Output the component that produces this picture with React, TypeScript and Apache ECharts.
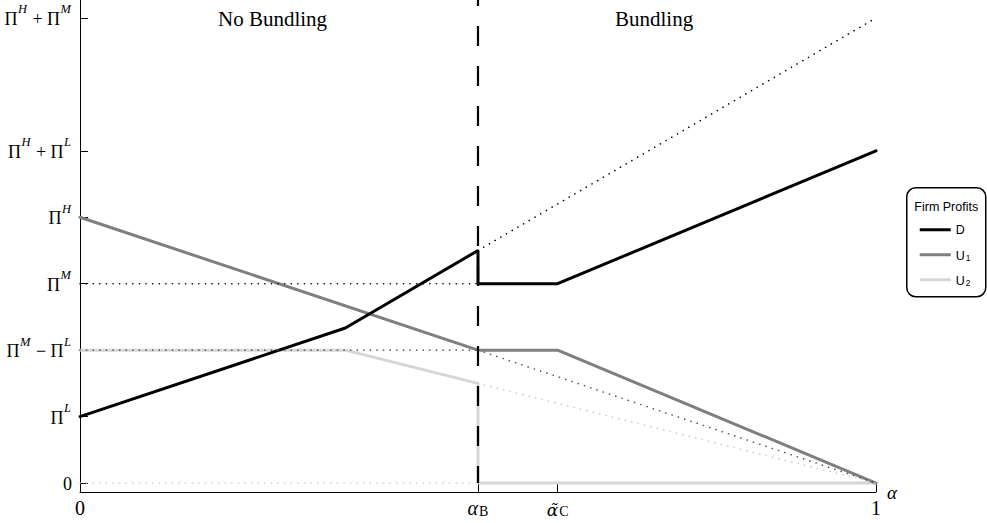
import React, { useEffect, useRef } from "react";
import * as echarts from "echarts";

const SERIF = "'Liberation Serif', 'DejaVu Serif', serif";
const SANS = "'Liberation Sans', Arial, sans-serif";

// Axis ranges
const X_MIN = 0;
const X_MAX = 1;
const Y_MIN = -0.135;
const Y_MAX = 7.27;

// Key alpha values
const ALPHA_B = 0.5;
const ALPHA_C = 0.6;

// Firm profit curves (alpha, profit in units of Π^L)
const D_LINE = [[0, 1], [1 / 3, 7 / 3], [0.5, 3.5], [0.5, 3], [0.6, 3], [1, 5]];
const U1_LINE = [[0, 4], [0.5, 2], [0.6, 2], [1, 0]];
const U2_LINE = [[0, 2], [1 / 3, 2], [0.5, 1.5], [0.5, 0], [1, 0]];

// Dotted reference lines
const D_DOT_FLAT = [[0, 3], [0.5, 3]];
const D_DOT_RISE = [[0.5, 3.5], [1, 7]];
const U1_DOT_FLAT = [[0, 2], [0.5, 2]];
const U1_DOT_FALL = [[0.5, 2], [1, 0]];
const U2_DOT_FLAT = [[0, 0], [0.5, 0]];
const U2_DOT_FALL = [[0.5, 1.5], [1, 0]];

// Tick values & labels
const Y_TICKS = [0, 1, 2, 3, 4, 5, 7];
const Y_LABELS = [
  "{p|0}",
  "{p|Π}{s|L}",
  "{p|Π}{s|M}{p| − Π}{s|L}",
  "{p|Π}{s|M}",
  "{p|Π}{s|H}",
  "{p|Π}{s|H}{p| + Π}{s|L}",
  "{p|Π}{s|H}{p| + Π}{s|M}",
];
const X_TICKS = [0, ALPHA_B, ALPHA_C, 1];
const X_LABELS = ["{p|0}", "{i|α}{b|B}", "{j|α̃}{b|C}", "{p|1}"];

const REGIME_LABELS = ["No Bundling", "Bundling"];

const C_D = "#000000";
const C_U1 = "#7f7f7f";
const C_U2 = "#d6d6d6";

function lineSeries(name: string, data: number[][], color: string, width: number, type: any, z: number) {
  return {
    name,
    type: "line",
    data,
    symbol: "none",
    showSymbol: false,
    silent: true,
    z,
    lineStyle: { color, width, type, cap: "round" },
    emphasis: { disabled: true },
  };
}

export default function App() {
  const ref = useRef<HTMLDivElement>(null);

  useEffect(() => {
    if (!ref.current) return;
    const chart = echarts.init(ref.current, undefined, { renderer: "svg" });
    const dot = [0.1, 6.5];
    const subRich = {
      a: { fontFamily: SANS, fontSize: 12.5, fill: "#000", lineHeight: 14, verticalAlign: "bottom" },
      b: { fontFamily: SANS, fontSize: 8.5, fill: "#000", lineHeight: 8, verticalAlign: "bottom", padding: [3, 0, 0, 1] },
    };
    const option: any = {
      animation: false,
      backgroundColor: "#ffffff",
      grid: { left: 80, right: 111, top: 0, bottom: 31, containLabel: false, outerBoundsMode: "none" },
      xAxis: {
        type: "value",
        min: X_MIN,
        max: X_MAX,
        name: "α",
        nameLocation: "end",
        nameGap: 11,
        nameTextStyle: { fontFamily: SERIF, fontSize: 19, fontStyle: "italic", color: "#000", verticalAlign: "middle" },
        axisLine: { onZero: false, lineStyle: { color: "#000", width: 1 } },
        axisTick: { show: true, inside: true, length: 9, customValues: X_TICKS, lineStyle: { color: "#000", width: 1 } },
        splitLine: { show: false },
        axisLabel: {
          customValues: X_TICKS,
          margin: 6,
          formatter: (v: number) => X_LABELS[X_TICKS.indexOf(v)] ?? "",
          rich: {
            p: { fontFamily: SERIF, fontSize: 20, color: "#000", lineHeight: 20, verticalAlign: "bottom" },
            i: { fontFamily: SERIF, fontSize: 20, fontStyle: "italic", color: "#000", lineHeight: 20, verticalAlign: "bottom" },
            j: { fontFamily: "'DejaVu Serif', serif", fontSize: 17, fontStyle: "italic", color: "#000", lineHeight: 20, verticalAlign: "bottom" },
            b: { fontFamily: SERIF, fontSize: 14, color: "#000", lineHeight: 14, verticalAlign: "bottom", padding: [3, 0, 0, 1] },
          },
        },
      },
      yAxis: {
        type: "value",
        min: Y_MIN,
        max: Y_MAX,
        axisLine: { show: true, onZero: false, lineStyle: { color: "#000", width: 1 } },
        axisTick: { show: true, inside: true, length: 8, customValues: Y_TICKS, lineStyle: { color: "#000", width: 1 } },
        splitLine: { show: false },
        axisLabel: {
          customValues: Y_TICKS,
          margin: 8,
          formatter: (v: number) => Y_LABELS[Y_TICKS.indexOf(v)] ?? "",
          rich: {
            p: { fontFamily: SERIF, fontSize: 18, color: "#000", lineHeight: 20, verticalAlign: "bottom" },
            s: { fontFamily: SERIF, fontSize: 12.5, fontStyle: "italic", color: "#000", lineHeight: 13, verticalAlign: "bottom", padding: [0, 1, 12, 0.5] },
          },
        },
      },
      series: [
        lineSeries("U2 dotted flat", U2_DOT_FLAT, "#c8c8c8", 1.6, dot, 5),
        lineSeries("U2 dotted fall", U2_DOT_FALL, "#c8c8c8", 1.6, dot, 5),
        lineSeries("U₂", U2_LINE, C_U2, 3, "solid", 2),
        lineSeries("U₁", U1_LINE, C_U1, 3, "solid", 3),
        lineSeries("D", D_LINE, C_D, 3, "solid", 4),
        lineSeries("U1 dotted flat", U1_DOT_FLAT, "#555555", 1.6, dot, 6),
        lineSeries("U1 dotted fall", U1_DOT_FALL, "#555555", 1.6, dot, 6),
        lineSeries("D dotted flat", D_DOT_FLAT, "#000000", 1.6, dot, 6),
        lineSeries("D dotted rise", D_DOT_RISE, "#000000", 1.6, dot, 6),
        {
          ...lineSeries("alpha B", [[ALPHA_B, 0], [ALPHA_B, Y_MAX]], "#000000", 2.2, [20, 20], 10),
          lineStyle: { color: "#000", width: 2.2, type: [20, 20], dashOffset: 3, cap: "butt" },
        },
      ],
      graphic: [
        {
          type: "text",
          left: 278 - 60,
          top: 8,
          style: { text: REGIME_LABELS[0], fontFamily: SERIF, fontSize: 21, fill: "#000", width: 120, align: "center" },
        },
        {
          type: "text",
          left: 675 - 60,
          top: 8,
          style: { text: REGIME_LABELS[1], fontFamily: SERIF, fontSize: 21, fill: "#000", width: 120, align: "center" },
        },
        {
          type: "group",
          left: 906,
          top: 187,
          children: [
            { type: "rect", shape: { x: 0, y: 0, width: 79, height: 109, r: 9 }, style: { fill: "#fff", stroke: "#000", lineWidth: 1.5 } },
            { type: "text", x: 39.5, y: 19, style: { text: "Firm Profits", fontFamily: SANS, fontSize: 12.5, fill: "#000", align: "center", verticalAlign: "middle" } },
            { type: "line", shape: { x1: 13, y1: 42, x2: 44, y2: 42 }, style: { stroke: C_D, lineWidth: 3 } },
            { type: "text", x: 49, y: 42, style: { text: "D", fontFamily: SANS, fontSize: 12.5, fill: "#000", align: "left", verticalAlign: "middle" } },
            { type: "line", shape: { x1: 13, y1: 67, x2: 44, y2: 67 }, style: { stroke: C_U1, lineWidth: 3 } },
            { type: "text", x: 49, y: 68, style: { text: "{a|U}{b|1}", align: "left", verticalAlign: "middle", rich: subRich } },
            { type: "line", shape: { x1: 13, y1: 92, x2: 44, y2: 92 }, style: { stroke: C_U2, lineWidth: 3 } },
            { type: "text", x: 49, y: 93, style: { text: "{a|U}{b|2}", align: "left", verticalAlign: "middle", rich: subRich } },
          ],
        },
      ],
    };
    chart.setOption(option);
    return () => chart.dispose();
  }, []);

  return <div ref={ref} style={{ position: "fixed", left: 0, top: 0, width: 987, height: 523, background: "#fff" }} />;
}
